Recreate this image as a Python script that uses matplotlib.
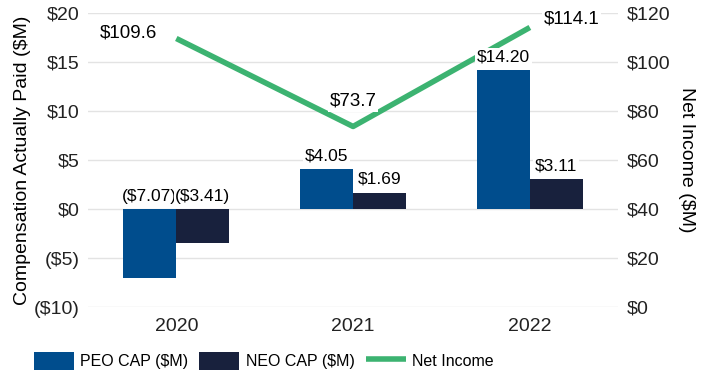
import numpy as np
import matplotlib.pyplot as plt

plt.rcParams['font.family'] = ['Liberation Sans', 'DejaVu Sans']

years = ['2020', '2021', '2022']
peo_cap = [-7.07, 4.05, 14.20]
neo_cap = [-3.41, 1.69, 3.11]
net_income = [109.6, 73.7, 114.1]

peo_col = '#004d8d'
neo_col = '#18213d'
line_col = '#3cb371'
grid_col = '#e3e3e3'

x = np.arange(len(years))
w = 0.3

fig = plt.figure(figsize=(7.09, 3.82), dpi=100)
ax1 = fig.add_axes([0.124, 0.196, 0.748, 0.77])
ax2 = ax1.twinx()

ax1.set_ylim(-10, 20)
ax1.set_yticks(np.arange(-10, 21, 5))
ax1.set_yticklabels(['($10)', '($5)', '$0', '$5', '$10', '$15', '$20'])
ax1.yaxis.grid(True, color=grid_col, lw=1)
ax1.set_axisbelow(True)
b1 = ax1.bar(x - w/2, peo_cap, w, color=peo_col, label='PEO CAP ($M)', zorder=2)
b2 = ax1.bar(x + w/2, neo_cap, w, color=neo_col, label='NEO CAP ($M)', zorder=2)
ax1.set_xlim(-0.5, 2.5)
ax1.set_xticks(x)
ax1.set_xticklabels(years)
ax1.set_ylabel('Compensation Actually Paid ($M)', fontsize=14, labelpad=2)

bb = dict(boxstyle='square,pad=0.1', fc='white', ec='none')

def fmt(v):
    return '(${:.2f})'.format(-v) if v < 0 else '${:.2f}'.format(v)

ax2.set_ylim(0, 120)
ax2.set_yticks(np.arange(0, 121, 20))
ax2.set_yticklabels(['$' + str(t) for t in range(0, 121, 20)])
ln, = ax2.plot(x, net_income, color=line_col, lw=4, label='Net Income',
               solid_capstyle='butt', zorder=2)
ax2.set_ylabel('Net Income ($M)', fontsize=14, rotation=270, labelpad=18)

# bar labels drawn on the top axes so their white boxes cover the line
for xs, vals in [(x - w/2, peo_cap), (x + w/2, neo_cap)]:
    for xi, v in zip(xs, vals):
        ax2.annotate(fmt(v), (xi, max(v, 0)), xycoords=ax1.transData,
                     xytext=(0, 4), textcoords='offset points',
                     ha='center', va='bottom', fontsize=12.5, bbox=bb, zorder=3)

offs = [(-14, 4, 'right', 'center'), (0, 12, 'center', 'bottom'), (10, 6, 'left', 'center')]
for xi, v, (dx, dy, ha, va) in zip(x, net_income, offs):
    ax2.annotate('${:.1f}'.format(v), (xi, v), xytext=(dx, dy), textcoords='offset points',
                 ha=ha, va=va, fontsize=13.5, bbox=bb, zorder=3)

for ax in (ax1, ax2):
    for s in ax.spines.values():
        s.set_visible(False)
    ax.tick_params(length=0, labelsize=14, colors='#222222', pad=6)
ax1.tick_params(axis='x', pad=8)

fig.legend([b1, b2, ln], ['PEO CAP ($M)', 'NEO CAP ($M)', 'Net Income'],
           loc='lower center', bbox_to_anchor=(0.372, -0.005), ncol=3, frameon=False,
           fontsize=11.5, handlelength=2.5, handleheight=1.3, handletextpad=0.4,
           columnspacing=0.7)

fig.savefig('out.png', dpi=100)
